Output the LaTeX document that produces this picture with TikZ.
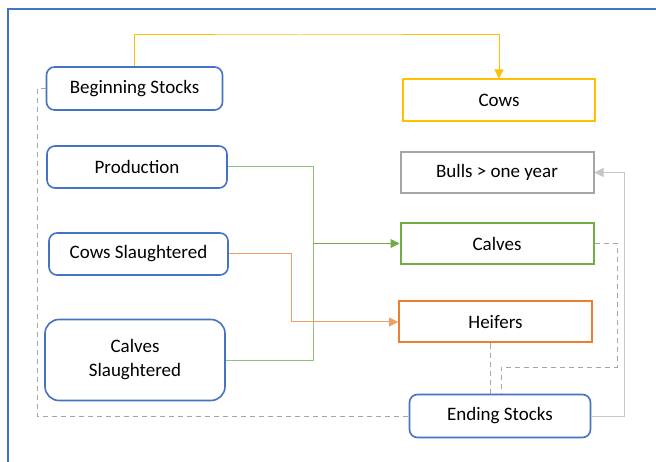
\documentclass[tikz,border=0pt]{standalone}
\usepackage{fontspec}
\setmainfont{Carlito}
\usetikzlibrary{arrows.meta,calc}
\definecolor{cblue}{HTML}{4472C4}
\definecolor{cyel}{HTML}{FFC000}
\definecolor{cgreen}{HTML}{70AD47}
\definecolor{corange}{HTML}{ED7D31}
\definecolor{cgray}{HTML}{A5A5A5}
\tikzset{
  rbox/.style={draw=cblue, line width=1.6pt, rounded corners=8pt, align=center, inner sep=0pt},
  sbox/.style={line width=2pt, align=center, inner sep=0pt},
  conn/.style={line width=1pt},
  dline/.style={conn, draw=cgray, dash pattern=on 5pt off 4pt},
  tip/.style={-{Triangle[length=9pt,width=9pt]}}
}
\begin{document}
\begin{tikzpicture}[x=1pt,y=-1pt,font=\fontsize{19}{24}\selectfont]
\useasboundingbox (0,0) rectangle (656,462);
\fill[white] (0,0) rectangle (656,462);
\draw[cblue, line width=2pt] (8,462) -- (8,9) -- (657,9);

\node[rbox, minimum width=176pt, minimum height=43pt] (BS) at (134.5,88.5) {Beginning Stocks};
\node[rbox, minimum width=180pt, minimum height=42pt] (PR) at (137,167) {Production};
\node[rbox, minimum width=179pt, minimum height=42pt] (CS) at (138.5,254) {Cows Slaughtered};
\node[rbox, rounded corners=14pt, minimum width=180pt, minimum height=81pt] (KS) at (135,360) {Calves\\Slaughtered};
\node[rbox, minimum width=181pt, minimum height=43pt] (ES) at (500,416) {Ending Stocks};

\node[sbox, draw=cyel, minimum width=192pt, minimum height=42pt] (CW) at (499,100.5) {Cows};
\node[sbox, draw=cgray, minimum width=193pt, minimum height=41pt] (BU) at (497,172.5) {Bulls > one year};
\node[sbox, draw=cgreen, minimum width=193pt, minimum height=41pt] (CA) at (497,243.5) {Calves};
\node[sbox, draw=corange, minimum width=193pt, minimum height=41pt] (HE) at (495.5,322) {Heifers};

\coordinate (ytop) at (300,35);
\coordinate (gj) at (313,243.5);
\coordinate (oj) at (291,322);
\coordinate (gr) at (624,172.5);
\coordinate (d1) at (490,0);
\coordinate (d2) at (617,367);
\coordinate (d3) at (501,367);
\coordinate (d4) at (37,416);

\draw[conn, cyel, tip] (BS.north) |- (ytop) -| (CW.north);
\draw[conn, cgreen!75] (PR.east) -| (gj);
\draw[conn, cgreen!75] (KS.east) -| (gj);
\draw[conn, cgreen, tip] (gj) -- (CA.west);
\draw[conn, corange!75, tip] (CS.east) -| (oj) -- (HE.west);
\draw[conn, gray!45, tip] (ES.east) -| (gr) -- (BU.east);
\draw[dline] (HE.south -| d1) -- (ES.north -| d1);
\draw[dline] (CA.east) -| (d2) -- (d3) -- (ES.north -| d3);
\draw[dline] (BS.west) -| (d4) -- (ES.west);
\end{tikzpicture}
\end{document}
